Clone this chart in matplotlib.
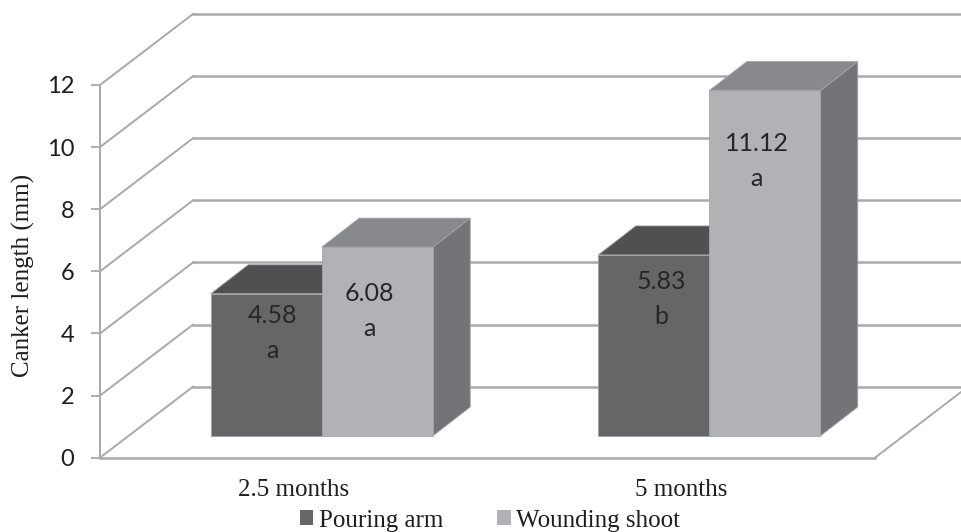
import matplotlib
matplotlib.use("Agg")
import matplotlib.pyplot as plt
from matplotlib.patches import Patch

categories = ["2.5 months", "5 months"]
series_names = ["Pouring arm", "Wounding shoot"]
pouring_arm = [4.58, 5.83]
wounding_shoot = [6.08, 11.12]
pouring_letters = ["a", "b"]
wounding_letters = ["a", "a"]
y_ticks = [0, 2, 4, 6, 8, 10, 12]

W, H = 962, 532
GRID = "#a9a9ab"
SERIF = "Liberation Serif"
SANS = "Lato"

# one category = 387.5 px, one value unit = 31.06 px
px_x = 387.5
px_y = 31.06
y0_px = 457.7
x_left = -0.5
x_right = x_left + (W - 100) / px_x

wall_dx = 93 / px_x
wall_dy = 71 / px_y
bar_w = 111 / px_x
bar_base = 21.7 / px_y
bar_shift = 28 / px_x
bar_dx = 37.5 / px_x
bar_dy = 29 / px_y


def draw_bar(ax, left, value, front, top, side):
    right = left + bar_w
    y0 = bar_base
    y1 = bar_base + value
    edge = dict(edgecolor="#a4a4a6", linewidth=0.6, zorder=3)
    ax.fill([right, right + bar_dx, right + bar_dx, right],
            [y0, y0 + bar_dy, y1 + bar_dy, y1], facecolor=side, **edge)
    ax.fill([left, right, right + bar_dx, left + bar_dx],
            [y1, y1, y1 + bar_dy, y1 + bar_dy], facecolor=top, **edge)
    ax.fill([left, right, right, left], [y0, y0, y1, y1], facecolor=front, **edge)


fig = plt.figure(figsize=(W / 100, H / 100), dpi=100)
ax = fig.add_axes([100 / W, 1 - y0_px / H, (W - 100) / W, y0_px / H])
ax.set_xlim(x_left, x_right)
ax.set_ylim(0, y0_px / px_y)

# walls and floor
for v in y_ticks:
    ax.plot([x_left, x_left + wall_dx], [v, v + wall_dy], color=GRID, lw=1.4, zorder=1)
    ax.plot([x_left + wall_dx, x_right], [v + wall_dy, v + wall_dy], color=GRID, lw=1.8, zorder=1)
ax.plot([1.5, 1.5 + wall_dx], [0, wall_dy], color=GRID, lw=1.4, zorder=1)

dark = ("#666668", "#505052", "#5a5a5c")
light = ("#b1b2b5", "#88898c", "#737477")
for i in range(len(categories)):
    draw_bar(ax, i + bar_shift - bar_w, pouring_arm[i], *dark)
    draw_bar(ax, i + bar_shift, wounding_shoot[i], *light)

# hand placed data labels, offsets in px from the bar top centre
pouring_off = [(6, 39), (8, 44)]
wounding_off = [(-8, 64), (-8, 70)]
for i in range(len(categories)):
    for left, val, letter, off in [
        (i + bar_shift - bar_w, pouring_arm[i], pouring_letters[i], pouring_off[i]),
        (i + bar_shift, wounding_shoot[i], wounding_letters[i], wounding_off[i]),
    ]:
        ax.annotate(f"{val:.2f}\n{letter}", (left + bar_w / 2, bar_base + val),
                    xytext=(off[0] * 0.72, -off[1] * 0.72), textcoords="offset points",
                    ha="center", va="center", fontsize=18, family=SANS,
                    color="#26262a", linespacing=1.62, zorder=5)

for name in ["top", "right"]:
    ax.spines[name].set_visible(False)
ax.spines["left"].set_color(GRID)
ax.spines["left"].set_linewidth(1.4)
ax.spines["left"].set_bounds(0, 12)
ax.spines["bottom"].set_color(GRID)
ax.spines["bottom"].set_linewidth(1.8)
ax.spines["bottom"].set_bounds(x_left, 1.5)
ax.patch.set_alpha(0)

ax.set_yticks(y_ticks)
ax.tick_params(axis="y", length=6.5, width=1.3, color=GRID, pad=12, labelsize=17, labelcolor="#1e1e22")
for t in ax.get_yticklabels():
    t.set_family(SANS)
ax.set_xticks(range(len(categories)))
ax.set_xticklabels(categories, family=SERIF, fontsize=18, color="#1e1e22")
ax.tick_params(axis="x", length=0, pad=15)

ax.set_ylabel("Canker length (mm)", family=SERIF, fontsize=18, color="#1e1e22")
ax.yaxis.set_label_coords(-65 / (W - 100), (y0_px - 275) / y0_px)

handles = [Patch(facecolor=dark[0], label=series_names[0]),
           Patch(facecolor=light[0], label=series_names[1])]
fig.legend(handles=handles, loc="lower left", bbox_to_anchor=(282 / W, -17 / H), ncol=2, frameon=False,
           prop={"family": SERIF, "size": 18}, handlelength=0.55, handleheight=0.55,
           handletextpad=0.22, columnspacing=2.16, labelcolor="#1e1e22", borderpad=0.2)

fig.savefig("out.png", dpi=100)
